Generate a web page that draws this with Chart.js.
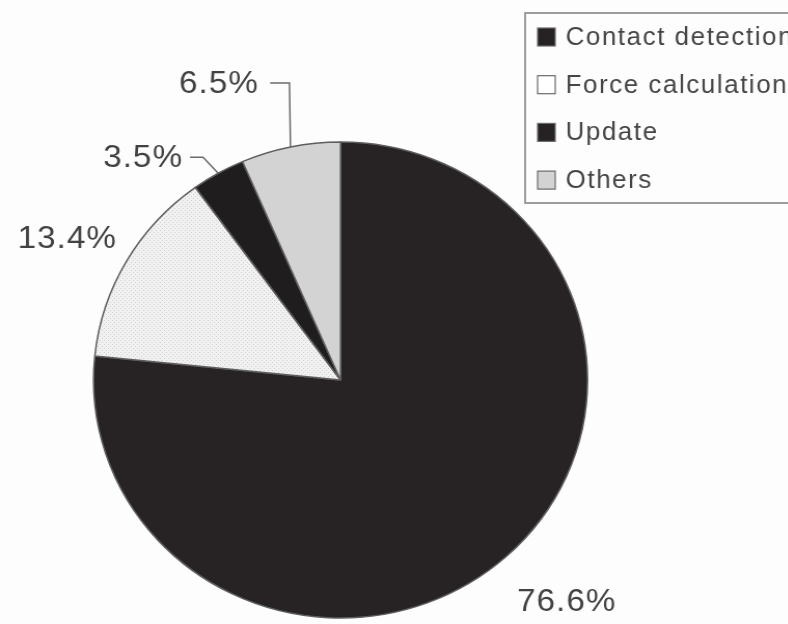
<!DOCTYPE html>
<html>
<head>
<meta charset="utf-8">
<script src="https://cdn.jsdelivr.net/npm/chart.js@4.4.1/dist/chart.umd.min.js"></script>
<style>
  html, body { margin: 0; padding: 0; background: #fdfdfd; overflow: hidden; width: 788px; height: 624px; }
  #wrap { position: absolute; left: 0; top: 0; width: 760px; height: 624px; transform: scaleX(1.0378); transform-origin: 0 0; }
  canvas { display: block; }
</style>
</head>
<body>
<div id="wrap"><canvas id="c" width="760" height="624"></canvas></div>
<script>
// Share of run time per computation stage (%)
const categories = ['Contact detection', 'Force calculation', 'Update', 'Others'];
const shares = [76.6, 13.4, 3.5, 6.5];
const labelTexts = shares.map(v => v.toFixed(1) + '%');

// Fine dotted fill for the force-calculation slice
function dotPattern() {
  const c = document.createElement('canvas');
  c.width = 4; c.height = 4;
  const g = c.getContext('2d');
  g.fillStyle = '#f1f1f1';
  g.fillRect(0, 0, 4, 4);
  g.fillStyle = '#cfcfcf';
  g.fillRect(0, 0, 1, 1);
  g.fillRect(2, 2, 1, 1);
  return g.createPattern(c, 'repeat');
}

const sliceColors = ['#272324', dotPattern(), '#1f1d1e', '#d3d3d3'];
const swatchColors = ['#262223', '#ffffff', '#262223', '#d3d3d3'];

// Where each percentage sits relative to the outer midpoint of its slice
const placement = [
  { dx: 10.5, dy: 45.4, align: 'left' },
  { dx: -9.1, dy: -22.4, align: 'right' },
  { dx: -33.9, dy: -15.3, align: 'right', leader: [[-14.6, -16], [-27.1, -16]] },
  { dx: -30.5, dy: -63, align: 'right', leader: [[-1, -64], [-19.6, -64]] }
];

const sliceLabels = {
  id: 'sliceLabels',
  afterDatasetsDraw(chart) {
    const ctx = chart.ctx;
    const meta = chart.getDatasetMeta(0);
    ctx.save();
    ctx.font = '32px "Liberation Sans", Arial, sans-serif';
    if ('letterSpacing' in ctx) ctx.letterSpacing = '1px';
    ctx.fillStyle = '#424242';
    ctx.strokeStyle = '#6a6a6a';
    ctx.lineWidth = 1.5;
    ctx.textBaseline = 'middle';
    meta.data.forEach((arc, i) => {
      const p = arc.getProps(['x', 'y', 'startAngle', 'endAngle', 'outerRadius'], true);
      const mid = (p.startAngle + p.endAngle) / 2;
      const ax = p.x + Math.cos(mid) * p.outerRadius;
      const ay = p.y + Math.sin(mid) * p.outerRadius;
      const pl = placement[i];
      if (pl.leader) {
        ctx.beginPath();
        ctx.moveTo(ax, ay);
        pl.leader.forEach(([dx, dy]) => ctx.lineTo(ax + dx, ay + dy));
        ctx.stroke();
      }
      ctx.textAlign = pl.align;
      ctx.fillText(labelTexts[i], ax + pl.dx, ay + pl.dy);
    });
    ctx.restore();
  }
};

// Boxed legend in the upper right corner
const boxedLegend = {
  id: 'boxedLegend',
  afterDraw(chart) {
    const ctx = chart.ctx;
    const left = 506, top = 13, bottom = 203;
    ctx.save();
    ctx.strokeStyle = '#9c9c9c';
    ctx.lineWidth = 2;
    ctx.beginPath();
    ctx.moveTo(chart.width + 5, top);
    ctx.lineTo(left, top);
    ctx.lineTo(left, bottom);
    ctx.lineTo(chart.width + 5, bottom);
    ctx.stroke();

    ctx.font = '25px "Liberation Sans", Arial, sans-serif';
    if ('letterSpacing' in ctx) ctx.letterSpacing = '1.5px';
    ctx.textBaseline = 'middle';
    ctx.textAlign = 'left';
    categories.forEach((name, i) => {
      const cy = 37 + i * 47.7;
      ctx.fillStyle = swatchColors[i];
      ctx.fillRect(518, cy - 9, 17, 18);
      ctx.strokeStyle = '#6a6a6a';
      ctx.lineWidth = 1.2;
      ctx.strokeRect(518, cy - 9, 17, 18);
      ctx.fillStyle = '#454545';
      ctx.fillText(name, 545, cy + 1);
    });
    ctx.restore();
  }
};

new Chart(document.getElementById('c'), {
  type: 'pie',
  data: {
    labels: categories,
    datasets: [{
      data: shares,
      backgroundColor: sliceColors,
      borderColor: '#5e5e5e',
      borderWidth: 1.5
    }]
  },
  options: {
    responsive: false,
    animation: false,
    layout: { padding: { left: 89.4, right: 193.1, top: 141.25, bottom: 5.25 } },
    plugins: {
      legend: { display: false },
      tooltip: { enabled: false }
    }
  },
  plugins: [sliceLabels, boxedLegend]
});
</script>
</body>
</html>
